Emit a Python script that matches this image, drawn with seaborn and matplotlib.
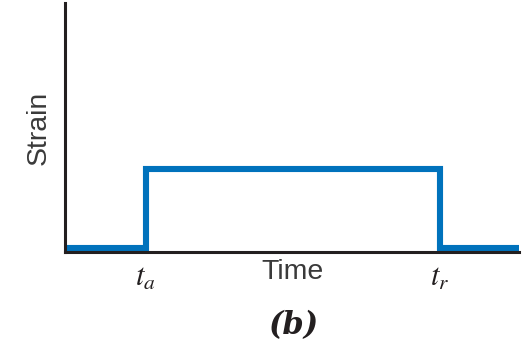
import matplotlib
matplotlib.use("Agg")
import matplotlib.pyplot as plt
import seaborn as sns

# step in strain: applied at t_a, removed at t_r
time = [0.0, 1.78, 8.26, 10.0]
strain = [0.05, 1.0, 0.05, 0.05]
tick_pos = [1.78, 8.26]
tick_labels = [r"$t_a$", r"$t_r$"]

sns.set_style("white")
plt.rcParams["font.family"] = ["Liberation Sans", "DejaVu Sans"]
plt.rcParams["mathtext.fontset"] = "stix"

ink = "#231f20"
blue = "#0072bc"

fig = plt.figure(figsize=(5.26, 3.44), dpi=100)
ax = fig.add_axes([65 / 526, 1 - 252 / 344, 454 / 526, 249 / 344])

sns.lineplot(x=time, y=strain, ax=ax, color=blue, linewidth=4.4,
             drawstyle="steps-post", solid_joinstyle="miter")

ax.set_xlim(0, 10)
ax.set_ylim(0, 3)
ax.set_xticks(tick_pos)
ax.set_xticklabels(tick_labels, fontsize=22, color=ink)
ax.tick_params(axis="x", length=0, pad=8)
ax.set_yticks([])

for side in ["top", "right"]:
    ax.spines[side].set_visible(False)
for side in ["left", "bottom"]:
    ax.spines[side].set_color(ink)
    ax.spines[side].set_linewidth(2.2)

ax.text(0.5, -0.08, "Time", transform=ax.transAxes, ha="center", va="center",
        fontsize=20.5, color="#3a3a3a")
ax.text(-0.059, 0.5, "Strain", transform=ax.transAxes, ha="center", va="center",
        rotation=90, fontsize=20.5, color="#3a3a3a")
fig.text(0.557, 0.055, "(b)", ha="center", va="center", fontsize=22,
         fontweight="bold", fontstyle="italic", family="DejaVu Serif", color=ink)

fig.savefig("out.png", dpi=100)
